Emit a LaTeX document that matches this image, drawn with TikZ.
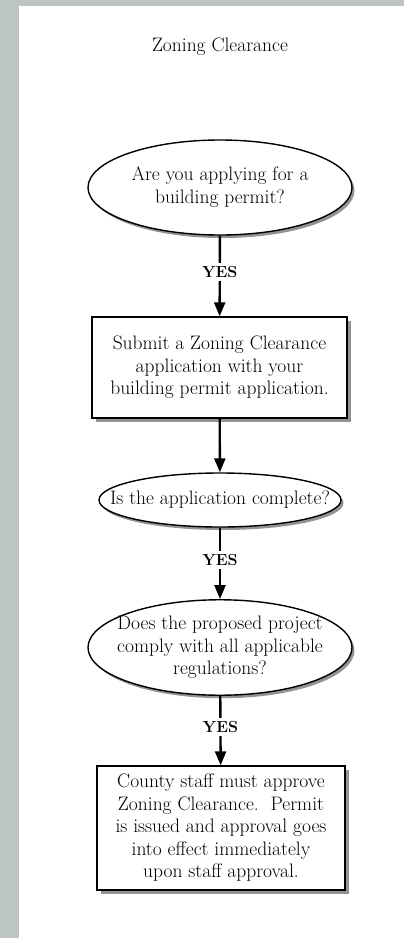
\documentclass[tikz,border=0pt]{standalone}
\usetikzlibrary{shapes.geometric,arrows.meta,shadows}
\definecolor{pagegray}{HTML}{BDC5C3}
% tekst zonder breedte, zodat de ellips de vaste maat houdt
\newcommand{\slimtext}[1]{\makebox[0pt]{\begin{tabular}{@{}c@{}}#1\end{tabular}}}
\begin{document}
\begin{tikzpicture}[
    x=1pt, y=-1pt,
    font=\fontsize{19.5}{22.5}\selectfont,
    question/.style={ellipse, draw, line width=1.4pt, fill=white, inner sep=0pt,
        drop shadow={shadow xshift=2.5pt, shadow yshift=-3pt, fill=black!70, opacity=0.6}},
    stepbox/.style={rectangle, draw, line width=1.4pt, fill=white, inner sep=0pt, align=center,
        drop shadow={shadow xshift=3.5pt, shadow yshift=-3.5pt, fill=black!70, opacity=0.6}},
    flow/.style={line width=2.4pt, -{Triangle[length=14pt,width=11pt]}},
    yes/.style={fill=white, inner sep=3pt, font=\fontsize{16}{18}\selectfont\bfseries}
]
\useasboundingbox (0,0) rectangle (404,938);
\fill[pagegray] (0,0) rectangle (404,938);
\fill[white] (19,6) rectangle (404,938);

% Titel
\node (title) at (220,47) {Zoning Clearance};

% Stappen
\node[question, minimum width=264pt, minimum height=95pt] (q1) at (220,187.5)
    {\slimtext{Are you applying for a\\building permit?}};
\node[stepbox, minimum width=255pt, minimum height=101pt] (s1) at (219.5,367.5)
    {Submit a Zoning Clearance\\application with your\\building permit application.};
\node[question, minimum width=242pt, minimum height=54pt] (q2) at (220,500)
    {\slimtext{Is the application complete?}};
\node[question, minimum width=264pt, minimum height=89pt] (q3) at (220,647.5)
    {\slimtext{Does the proposed project\\comply with all applicable\\regulations?}};
\node[stepbox, minimum width=248pt, minimum height=124pt] (s2) at (221,828)
    {County staff must approve\\Zoning Clearance.\ \ Permit\\is issued and approval goes\\into effect immediately\\upon staff approval.};

% Pijlen
\foreach \a/\b in {q1/s1, q2/q3, q3/s2} {
    \draw[flow] (\a) -- node[yes, pos=0.45] {YES} (\b);
}
\draw[flow] (s1) -- (q2);
\end{tikzpicture}
\end{document}
